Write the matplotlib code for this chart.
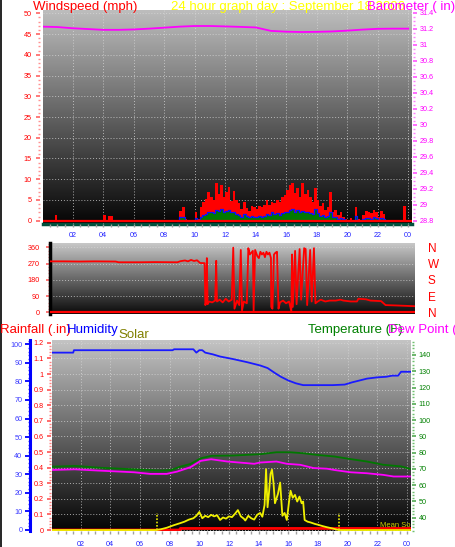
import numpy as np
import matplotlib
matplotlib.use('Agg')
import matplotlib.pyplot as plt
from matplotlib.colors import LinearSegmentedColormap
from matplotlib.ticker import MultipleLocator, FixedLocator, FuncFormatter
from matplotlib.lines import Line2D

plt.rcParams['font.family'] = ['Liberation Sans', 'DejaVu Sans']

# ---------------- data ----------------
hour_ticks = [2, 4, 6, 8, 10, 12, 14, 16, 18, 20, 22, 24]
hour_labels = ['02', '04', '06', '08', '10', '12', '14', '16', '18', '20', '22', '00']

# wind (10 minute samples during the windy part of the day)
wind_time = ['08:50', '09:00', '09:10', '09:20', '09:30', '09:40', '09:50',
             '10:00', '10:10', '10:20', '10:30', '10:40', '10:50',
             '11:00', '11:10', '11:20', '11:30', '11:40', '11:50',
             '12:00', '12:10', '12:20', '12:30', '12:40', '12:50',
             '13:00', '13:10', '13:20', '13:30', '13:40', '13:50',
             '14:00', '14:10', '14:20', '14:30', '14:40', '14:50',
             '15:00', '15:10', '15:20', '15:30', '15:40', '15:50',
             '16:00', '16:10', '16:20', '16:30', '16:40', '16:50',
             '17:00', '17:10', '17:20', '17:30', '17:40', '17:50',
             '18:00', '18:10', '18:20', '18:30', '18:40', '18:50',
             '19:00', '19:10', '19:20', '19:30', '19:40', '19:50',
             '20:00', '20:10', '20:20', '20:30', '20:40', '20:50',
             '21:00', '21:10', '21:20', '21:30', '21:40', '21:50',
             '22:00', '22:10', '22:20', '22:30']
wind_gust = [0, 2.4, 3.4, 0.3, 0, 0, 0,
             2.2, 0.4, 3.4, 4.6, 5.2, 7.0,
             5.8, 4.9, 9.0, 6.4, 8.6, 5.6,
             7.0, 8.2, 4.8, 7.2, 5.0, 4.2,
             2.8, 4.5, 3.0, 2.4, 3.6, 3.4,
             2.8, 3.6, 3.2, 3.8, 4.9, 3.9,
             4.4, 4.2, 5.0, 4.6, 5.8, 6.3,
             7.4, 8.6, 9.2, 6.6, 7.8, 5.8,
             9.0, 6.4, 7.4, 5.8, 4.4, 7.8,
             5.0, 3.6, 4.2, 2.6, 3.4, 7.0,
             2.2, 2.6, 1.4, 2.0, 1.0, 0.3,
             0, 0.6, 0, 3.4, 0.4, 0,
             1.4, 2.4, 2.2, 1.8, 2.6, 2.2,
             1.0, 2.4, 1.6, 0]
wind_avg = [0, 0.8, 1.0, 0, 0, 0, 0,
            0.6, 0.2, 0.8, 1.4, 1.6, 2.0,
            2.2, 1.8, 2.6, 2.4, 2.8, 2.2,
            2.4, 2.6, 2.0, 2.2, 1.6, 1.4,
            1.0, 1.6, 1.2, 0.8, 1.2, 1.0,
            0.8, 1.2, 1.0, 1.2, 1.6, 1.4,
            2.0, 1.6, 1.8, 1.4, 1.8, 2.0,
            2.2, 2.6, 2.8, 2.2, 2.6, 2.0,
            2.4, 2.0, 2.2, 1.8, 1.6, 2.8,
            1.8, 1.2, 1.4, 1.0, 1.2, 2.0,
            0.8, 1.0, 0.4, 0.6, 0.3, 0,
            0, 0, 0, 1.2, 0, 0,
            0.3, 0.6, 0.6, 0.4, 0.8, 0.6,
            0.2, 0.6, 0.3, 0]
# isolated gusts outside the windy period
extra_gust_time = ['00:50', '04:00', '04:20', '04:30', '23:40']
extra_gust = [1.4, 1.4, 1.1, 1.1, 3.5]

baro_hour = list(range(0, 25))
baro = [31.225, 31.22, 31.205, 31.195, 31.185, 31.185, 31.19, 31.20, 31.212,
        31.225, 31.233, 31.233, 31.228, 31.222, 31.215, 31.172, 31.162, 31.158,
        31.16, 31.165, 31.175, 31.188, 31.198, 31.20, 31.20]

dir_hour = [0.05, 1.0, 2.0, 3.0, 4.4, 4.6, 6.0, 7.0, 8.5, 8.7, 9.0, 9.2, 9.4, 9.6,
            9.8, 10.0, 10.3, 10.35, 10.4, 10.45, 10.5, 10.6, 10.8, 11.0, 11.07,
            11.12, 11.3, 11.5, 11.7, 11.9, 12.1, 12.2, 12.28, 12.45, 12.6, 12.7,
            12.78, 12.9, 13.1, 13.2, 13.3, 13.5, 13.55, 13.65, 13.8, 13.9, 14.0,
            14.1, 14.2, 14.3, 14.4, 14.5, 14.6, 14.7, 14.72, 14.8, 14.9, 15.0,
            15.1, 15.2, 15.3, 15.5, 15.7, 15.9, 16.05, 16.1, 16.15, 16.3, 16.4,
            16.6, 16.7, 16.9, 17.0, 17.1, 17.3, 17.4, 17.55, 17.65, 17.8, 18.0,
            18.3, 18.6, 19.0, 19.3, 19.5, 20.0, 20.4, 20.5, 21.0, 21.3, 22.0,
            22.3, 23.0, 24.2]
dir_deg = [282, 282, 281, 282, 281, 277, 277, 278, 277, 283, 287, 282, 290, 284,
           288, 273, 272, 40, 55, 300, 45, 60, 55, 65, 285,
           60, 70, 55, 75, 60, 70, 358, 20, 65, 40, 345,
           10, 60, 50, 355, 320, 340, 10, 345, 310, 300, 335,
           320, 330, 305, 335, 320, 330, 300, 30, 20, 320, 330,
           335, 20, 55, 65, 50, 60, 5, 320, 30, 340, 45,
           350, 70, 355, 350, 40, 345, 60, 355, 50, 60, 70,
           60, 65, 65, 70, 65, 60, 60, 75, 72, 65, 62,
           40, 38, 34]

hum_hour = [0.05, 1.5, 1.55, 8.2, 8.3, 9.6, 9.8, 10.0, 10.2, 10.4, 10.9, 11.4,
            12.3, 13.2, 14.1, 14.6, 15.1, 15.5, 16.0, 16.5, 17.0, 18.0, 19.0,
            19.8, 20.3, 20.8, 21.3, 22.0, 22.6, 23.0, 23.4, 23.6, 24.25]
humidity = [95.5, 95.5, 96.8, 96.8, 97.3, 97.3, 95.5, 96.8, 96.8, 95.5, 94.6, 93.4,
            92.0, 90.4, 88.6, 87.2, 84.5, 82.5, 80.5, 79.0, 78.0, 78.0, 78.0,
            78.3, 79.5, 80.5, 81.5, 82.2, 82.5, 83.1, 83.1, 85.2, 85.2]

temp_hour = [0.05, 1.6, 3.3, 5.6, 7.4, 8.1, 8.7, 9.4, 10.1, 10.8, 12.3, 14.1, 15.2,
             16.1, 17.0, 17.9, 19.1, 20.2, 21.3, 22.4, 23.6, 24.2]
temperature = [71.3, 71.8, 70.7, 69.7, 68.9, 69.3, 71.3, 73.0, 76.5, 78.0, 78.2, 79.0,
               80.2, 80.2, 79.6, 78.6, 77.6, 76.0, 74.5, 72.5, 71.5, 70.0]

dew_hour = [0.05, 1.6, 3.3, 5.6, 6.7, 7.8, 8.5, 9.4, 10.1, 10.8, 11.9, 13.2, 13.7,
            14.1, 15.2, 15.9, 16.8, 17.7, 18.6, 19.1, 20.2, 21.3, 22.4, 23.1, 24.2]
dew_point = [69.3, 69.7, 68.9, 67.9, 66.9, 66.9, 68.3, 71.0, 74.9, 75.9, 74.5, 73.5,
             73.1, 73.9, 74.5, 73.1, 72.5, 70.5, 70.1, 69.3, 67.9, 67.3, 66.3, 65.3,
             65.3]

rain_hour = [0.05, 8.7, 8.72, 24.25]
rain = [0.0, 0.0, 0.01, 0.01]

solar_hour = [0.05, 7.1, 7.4, 7.8, 8.3, 8.7, 9.0, 9.3, 9.6, 9.8, 10.0, 10.2, 10.4,
              10.6, 10.8, 11.0, 11.2, 11.4, 11.6, 11.8, 12.0, 12.2, 12.4, 12.6,
              12.8, 13.0, 13.1, 13.3, 13.5, 13.7, 13.9, 14.1, 14.25, 14.4, 14.5,
              14.6, 14.7, 14.8, 14.9, 15.0, 15.1, 15.3, 15.45, 15.6, 15.75, 15.9,
              16.05, 16.15, 16.3, 16.45, 16.6, 16.75, 16.9, 17.0, 17.1, 17.3, 17.5,
              17.8, 18.0, 18.3, 18.6, 19.0, 19.4, 24.2]
solar = [0, 0, 4, 12, 26, 36, 44, 55, 62, 75, 95, 62, 75,
         68, 80, 72, 78, 53, 66, 60, 72, 68, 85, 105,
         72, 60, 50, 75, 62, 55, 80, 90, 70, 132, 320,
         120, 200, 295, 318, 250, 141, 190, 250, 75, 90, 53,
         150, 207, 170, 185, 150, 176, 141, 150, 53, 44, 40,
         32, 28, 21, 15, 8, 0, 0]
sunrise_sunset = [7.12, 19.44]


def hours(labels):
    return np.array([int(s[:2]) + int(s[3:]) / 60 for s in labels])


# ---------------- layout helpers ----------------
W, H = 456, 547
fig = plt.figure(figsize=(W / 100, H / 100), dpi=100)
fig.patch.set_facecolor('white')
PX = 0.72  # points per pixel


def rect(x0, y0, x1, y1):
    return [x0 / W, 1 - y1 / H, (x1 - x0) / W, (y1 - y0) / H]


def gradient(ax, top, bottom):
    cmap = LinearSegmentedColormap.from_list('g', [bottom, top])
    ax.imshow(np.linspace(0, 1, 256).reshape(-1, 1), cmap=cmap, aspect='auto',
              extent=[0, 1, 0, 1], transform=ax.transAxes, origin='lower',
              zorder=0, interpolation='bilinear')


def hide_spines(ax):
    for s in ax.spines.values():
        s.set_visible(False)


fmt_g = FuncFormatter(lambda v, p: '%g' % round(v, 3))
XLIM = (0.05, 24.25)
grid_kw = dict(color='#d8d8d8', linestyle=(0, (1, 2)), linewidth=0.7, alpha=0.75)

# ---------------- top panel: wind + barometer ----------------
ax_w = fig.add_axes(rect(43, 10, 412, 224))
gradient(ax_w, '#bdbdbd', '#050505')
hide_spines(ax_w)
ax_w.spines['bottom'].set_visible(True)
ax_w.spines['bottom'].set_color('#00503c')
ax_w.spines['bottom'].set_linewidth(2.5)
ax_w.spines['left'].set_position(('outward', 3 * PX))

wt = hours(wind_time)
ax_w.bar(hours(extra_gust_time), extra_gust, width=1 / 6, align='edge',
         color='#ff0000', zorder=3)
ax_w.bar(wt, wind_gust, width=1 / 6, align='edge', color='#ff0000', zorder=3)
ax_w.bar(wt, wind_avg, width=1 / 6, align='edge', color='#007a00', zorder=4)
ax_w.step(np.append(wt, wt[-1] + 1 / 6), np.append(wind_avg, wind_avg[-1]),
          where='post', color='#1010ff', lw=0.9, zorder=5)
ax_w.axhline(0, color='#ff0000', lw=1.6, zorder=6)

ax_w.set_xlim(*XLIM)
ax_w.set_ylim(-0.8, 50.8)
ax_w.yaxis.set_major_locator(MultipleLocator(5))
ax_w.yaxis.set_minor_locator(MultipleLocator(1))
ax_w.tick_params(axis='y', which='major', direction='out', length=4 * PX, width=1.3,
                 color='#ff7070', labelcolor='#ff0000', labelsize=5.2, pad=4 * PX)
ax_w.tick_params(axis='y', which='minor', direction='out', length=2.5 * PX, width=1.0,
                 color='#ff9090')
ax_w.xaxis.set_major_locator(FixedLocator(hour_ticks))
ax_w.set_xticklabels(hour_labels)
ax_w.xaxis.set_minor_locator(MultipleLocator(0.5))
ax_w.tick_params(axis='x', which='major', direction='out', length=3 * PX, width=1,
                 color='#a0a0a0', labelcolor='#2020ff', labelsize=5.2, pad=5 * PX)
ax_w.tick_params(axis='x', which='minor', direction='out', length=3 * PX, width=1,
                 color='#a0a0a0')
ax_w.grid(True, which='major', **grid_kw)
ax_w.set_axisbelow(False)
for gl in ax_w.get_xgridlines() + ax_w.get_ygridlines():
    gl.set_zorder(1)

ax_b = ax_w.twinx()
hide_spines(ax_b)
ax_b.spines['right'].set_position(('outward', 1 * PX))
ax_b.plot(baro_hour, baro, color='#ff00ff', lw=1.3)
ax_b.set_ylim(28.759, 31.433)
ax_b.yaxis.set_major_locator(FixedLocator(np.round(np.arange(28.8, 31.41, 0.2), 1)))
ax_b.yaxis.set_major_formatter(fmt_g)
ax_b.yaxis.set_minor_locator(MultipleLocator(0.05))
ax_b.tick_params(axis='y', which='major', direction='out', length=4 * PX, width=1.3,
                 color='#ff60ff', labelcolor='#ff00ff', labelsize=5.2, pad=2.5 * PX)
ax_b.tick_params(axis='y', which='minor', direction='out', length=2.5 * PX, width=1.0,
                 color='#ff80ff')

# ---------------- middle panel: wind direction ----------------
ax_d = fig.add_axes(rect(50, 243.3, 415, 314.3))
gradient(ax_d, '#c8c8c8', '#0a0a0a')
hide_spines(ax_d)
ax_d.spines['left'].set_visible(True)
ax_d.spines['left'].set_color('black')
ax_d.spines['left'].set_linewidth(2.5)
ax_d.plot(dir_hour, dir_deg, color='#ff0000', lw=1.3, zorder=3)
ax_d.axhline(0, color='#ff0000', lw=1.6, zorder=3)
ax_d.set_xlim(*XLIM)
ax_d.set_ylim(-11, 382)
ax_d.set_xticks([])
ax_d.yaxis.set_major_locator(FixedLocator([0, 90, 180, 270, 360]))
ax_d.yaxis.set_minor_locator(MultipleLocator(18))
ax_d.tick_params(axis='y', which='major', direction='out', length=4 * PX, width=1.2,
                 color='#ff6060', labelcolor='#ff0000', labelsize=5.2, pad=6 * PX)
ax_d.tick_params(axis='y', which='minor', direction='out', length=2.5 * PX, width=1.0,
                 color='#ff8080')
ax_d.grid(True, axis='y', **grid_kw)

ax_d2 = ax_d.twinx()
hide_spines(ax_d2)
ax_d2.set_ylim(-11, 382)
ax_d2.yaxis.set_major_locator(FixedLocator([0, 90, 180, 270, 360]))
ax_d2.set_yticklabels(['N', 'E', 'S', 'W', 'N'])
ax_d2.tick_params(axis='y', length=0, labelcolor='#ff0000', labelsize=8.5, pad=13 * PX)

# ---------------- bottom panel ----------------
ax_r = fig.add_axes(rect(51.7, 340, 410.7, 531))
gradient(ax_r, '#c4c4c4', '#030303')
hide_spines(ax_r)
ax_r.spines['left'].set_position(('outward', 1 * PX))
ax_r.plot(rain_hour, rain, color='#ff0000', lw=2.0, zorder=3)
ax_r.set_xlim(*XLIM)
ax_r.set_ylim(-0.0064, 1.218)
ax_r.yaxis.set_major_locator(FixedLocator(np.round(np.arange(0, 1.21, 0.1), 1)))
ax_r.yaxis.set_major_formatter(fmt_g)
ax_r.yaxis.set_minor_locator(MultipleLocator(0.02))
ax_r.tick_params(axis='y', which='major', direction='out', length=4 * PX, width=1.3,
                 color='#ff6060', labelcolor='#ff0000', labelsize=5.2, pad=3 * PX)
ax_r.tick_params(axis='y', which='minor', direction='out', length=2.5 * PX, width=1.0,
                 color='#ff8080')
ax_r.xaxis.set_major_locator(FixedLocator(hour_ticks))
ax_r.set_xticklabels(hour_labels)
ax_r.xaxis.set_minor_locator(MultipleLocator(0.5))
ax_r.tick_params(axis='x', which='major', direction='out', length=3 * PX, width=1,
                 color='#a0a0a0', labelcolor='#2020ff', labelsize=5.2, pad=7 * PX)
ax_r.tick_params(axis='x', which='minor', direction='out', length=3 * PX, width=1,
                 color='#a0a0a0')
ax_r.grid(True, which='major', **grid_kw)

ax_h = ax_r.twinx()
hide_spines(ax_h)
ax_h.yaxis.tick_left()
ax_h.spines['left'].set_visible(True)
ax_h.spines['left'].set_position(('outward', 21.2 * PX))
ax_h.spines['left'].set_color('#0000ff')
ax_h.spines['left'].set_linewidth(2.2)
ax_h.plot(hum_hour, humidity, color='#1a1aff', lw=1.3)
ax_h.set_ylim(-0.54, 102.3)
ax_h.yaxis.set_major_locator(MultipleLocator(10))
ax_h.yaxis.set_minor_locator(MultipleLocator(2))
ax_h.tick_params(axis='y', which='major', direction='out', length=5 * PX, width=1.3,
                 color='#0000ff', labelcolor='#3c3cff', labelsize=5.2, pad=3 * PX)
ax_h.tick_params(axis='y', which='minor', direction='out', length=2.5 * PX, width=1.0,
                 color='#4040ff')

ax_t = ax_r.twinx()
hide_spines(ax_t)
ax_t.spines['right'].set_position(('outward', 1.5 * PX))
ax_t.plot(temp_hour, temperature, color='#007800', lw=1.3)
ax_t.plot(dew_hour, dew_point, color='#ff00ff', lw=1.3)
ax_t.set_ylim(31.8, 149.2)
ax_t.yaxis.set_major_locator(FixedLocator(list(range(40, 141, 10))))
ax_t.yaxis.set_minor_locator(MultipleLocator(2))
ax_t.tick_params(axis='y', which='major', direction='out', length=4 * PX, width=1.3,
                 color='#60b060', labelcolor='#008000', labelsize=5.2, pad=2.5 * PX)
ax_t.tick_params(axis='y', which='minor', direction='out', length=2.5 * PX, width=1.0,
                 color='#70c070')

ax_s = ax_r.twinx()
hide_spines(ax_s)
ax_s.set_yticks([])
ax_s.plot(solar_hour, solar, color='#f0f000', lw=1.3)
for t in sunrise_sunset:
    ax_s.axvline(t, ymin=0.005, ymax=0.094, color='#e8e800', lw=1.2,
                 linestyle=(0, (1, 1)))
ax_s.set_ylim(-5, 1000)
ax_s.set_xlim(*XLIM)
ax_s.text(0.915, 0.012, 'Mean Solar', transform=ax_s.transAxes, color='#d0d000',
          fontsize=5.5, va='bottom', ha='left', clip_on=True)

# ---------------- titles ----------------
tkw = dict(fontsize=9.5, va='baseline', ha='left')
fig.text(33 / W, 1 - 10 / H, 'Windspeed (mph)', color='#ff0000', **tkw)
fig.text(171 / W, 1 - 10 / H, '24 hour graph day : September 18 2006',
         color='#ffff00', **tkw)
fig.text(367 / W, 1 - 10 / H, 'Barometer ( in)', color='#ff00ff', **tkw)
fig.text(0 / W, 1 - 333.5 / H, 'Rainfall (.in)', color='#ff0000', **tkw)
fig.text(66.7 / W, 1 - 333.5 / H, 'Humidity', color='#0000ff', **tkw)
fig.text(118 / W, 1 - 338 / H, 'Solar', color='#808000', **tkw)
fig.text(308 / W, 1 - 333.5 / H, 'Temperature (F)', color='#008000', **tkw)
fig.text(388 / W, 1 - 333.5 / H, 'Dew Point (F)', color='#ff00ff', **tkw)

fig.add_artist(Line2D([0.6 / W, 0.6 / W], [0, 1], color='black', lw=1.2,
                      transform=fig.transFigure))

fig.savefig('out.png', dpi=100, facecolor='white')
